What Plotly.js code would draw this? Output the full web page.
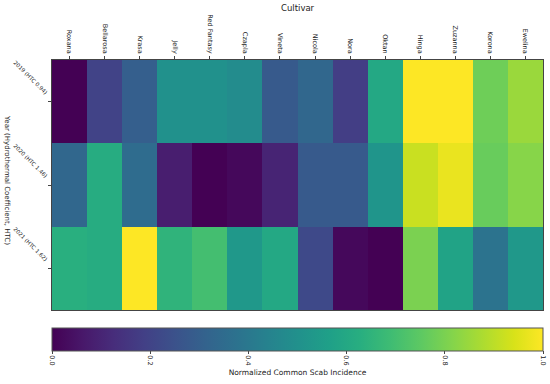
<!DOCTYPE html>
<html><head><meta charset="utf-8">
<script src="https://cdn.plot.ly/plotly-3.0.1.min.js"></script>
<style>html,body{margin:0;padding:0;background:#fff}</style>
</head><body><div id="chart" style="width:550px;height:384px"></div>
<script>
const cultivars = ["Roxana","Bellarosa","Krasa","Jelly","Red Fantasy","Czapla","Vineta","Nicola","Nora","Oktan","Hinga","Zuzanna","Korona","Ewelina"];
const years = ["2019 (HTC 0.94)","2020 (HTC 1.46)","2021 (HTC 1.62)"];
const v2019 = [0.00,0.20,0.30,0.50,0.50,0.48,0.28,0.33,0.18,0.60,1.00,1.00,0.78,0.85];
const v2020 = [0.33,0.62,0.35,0.08,0.00,0.02,0.10,0.28,0.28,0.52,0.92,0.97,0.77,0.82];
const v2021 = [0.63,0.62,1.00,0.65,0.70,0.53,0.60,0.22,0.02,0.00,0.80,0.58,0.38,0.53];
const cbTicks = [0,0.2,0.4,0.6,0.8,1.0];
const cbTickText = ["0.0","0.2","0.4","0.6","0.8","1.0"];

const font = {family:"DejaVu Sans", color:"#222"};
const trace = {
  type:"heatmap", x:cultivars, y:years, z:[v2019,v2020,v2021],
  colorscale:"Viridis", zmin:0, zmax:1, xgap:0, ygap:0,
  colorbar:{orientation:"h", x:0, xanchor:"left", len:1, lenmode:"fraction",
    y:-0.071, yanchor:"top", thickness:23, thicknessmode:"pixels", xpad:0, ypad:0,
    outlinewidth:1, outlinecolor:"#555",
    tickvals:cbTicks, ticktext:cbTickText, tickangle:90, ticks:"outside", ticklen:3,
    tickfont:{family:"DejaVu Sans", size:6.5, color:"#222"},
    title:{text:"Normalized Common Scab Incidence", side:"bottom", font:{family:"DejaVu Sans", size:7.5, color:"#222"}}
  }
};
const layout = {
  width:550, height:384,
  margin:{l:52, r:7, t:60, b:70},
  paper_bgcolor:"#fff", plot_bgcolor:"#fff",
  font:font,
  xaxis:{side:"top", tickangle:90, tickfont:{family:"DejaVu Sans", size:6.5, color:"#222"},
    ticks:"outside", ticklen:3, tickcolor:"#444", showline:true, mirror:true, linecolor:"#444", linewidth:1, showgrid:false},
  yaxis:{autorange:"reversed", tickangle:45, tickfont:{family:"DejaVu Sans", size:5.5, color:"#222"},
    ticklabelshift:8,
    ticks:"outside", ticklen:3, tickcolor:"#444", showline:true, mirror:true, linecolor:"#444", linewidth:1, showgrid:false},
  annotations:[
    {text:"Cultivar", xref:"paper", yref:"paper", x:0.5, y:1, yshift:52, xanchor:"center", yanchor:"middle", showarrow:false,
     font:{family:"DejaVu Sans", size:8.5, color:"#222"}},
    {text:"Year (Hydrothermal Coefficient, HTC)", xref:"paper", yref:"paper", x:0, xshift:-45, y:0.52, textangle:90,
     xanchor:"center", yanchor:"middle", showarrow:false, font:{family:"DejaVu Sans", size:7, color:"#222"}}
  ]
};
Plotly.newPlot("chart",[trace],layout,{displayModeBar:false, staticPlot:true});
</script></body></html>
